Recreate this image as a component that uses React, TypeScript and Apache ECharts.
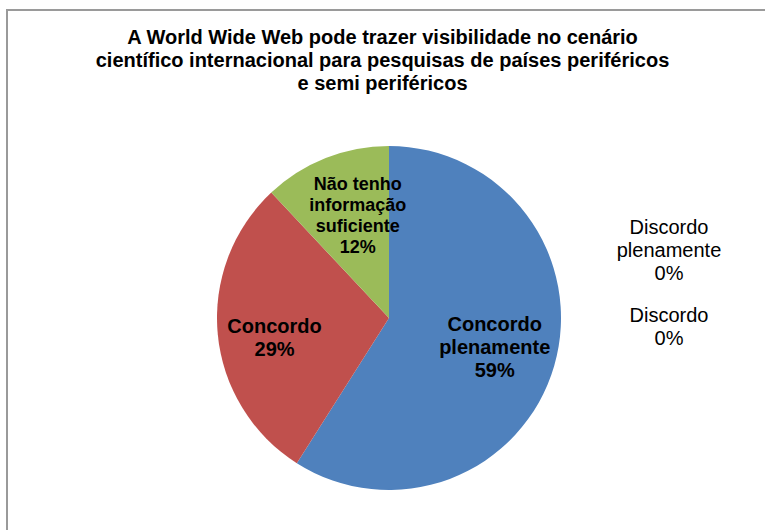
import React, { useEffect, useRef } from "react";
import * as echarts from "echarts";

const titleText =
  "A World Wide Web pode trazer visibilidade no cenário\ncientífico internacional para pesquisas de países periféricos\ne semi periféricos";
const categories = [
  "Concordo plenamente",
  "Concordo",
  "Não tenho informação suficiente",
  "Discordo",
  "Discordo plenamente",
];
const labelNames = [
  "Concordo\nplenamente",
  "Concordo",
  "Não tenho\ninformação\nsuficiente",
  "Discordo",
  "Discordo\nplenamente",
];
const values = [59, 29, 12, 0, 0];
const colors = ["#4F81BD", "#C0504D", "#9BBB59", "#8064A2", "#4BACC6"];

const CX = 389;
const CY = 318;
const R = 172;
const insideFactor = [0.64, 0.68, 0.62];
const insideNudge: [number, number][] = [
  [0, -2],
  [2, 8],
  [8, -3],
];
const zeroLabelPos: Record<number, [number, number]> = {
  3: [669, 326],
  4: [669, 250],
};

export default function App() {
  const ref = useRef<HTMLDivElement>(null);
  useEffect(() => {
    if (!ref.current) return;
    const chart = echarts.init(ref.current, undefined, { renderer: "svg" });
    const font = "Liberation Sans, Arial, sans-serif";
    const data = categories.map((name, i) => {
      const zero = values[i] === 0;
      return {
        name,
        value: values[i],
        itemStyle: { color: colors[i] },
        label: zero
          ? {
              position: "outside" as const,
              fontWeight: "normal" as const,
              fontSize: 20,
              lineHeight: 23,
            }
          : {
              position: "inside" as const,
              fontWeight: "bold" as const,
              fontSize: i === 2 ? 18 : 20,
              lineHeight: i === 2 ? 21 : 23,
            },
        labelLine: { show: false },
      };
    });
    chart.setOption({
      animation: false,
      backgroundColor: "#ffffff",
      title: {
        text: titleText,
        left: "center",
        top: 20,
        textStyle: {
          fontFamily: font,
          fontSize: 20,
          fontWeight: "bold",
          color: "#000",
          lineHeight: 23,
        },
      },
      graphic: [
        {
          type: "rect",
          shape: { x: 7, y: 10, width: 900, height: 700 },
          style: { fill: "none", stroke: "#9a9a9a", lineWidth: 2 },
          silent: true,
        },
      ],
      series: [
        {
          type: "pie",
          center: [CX, CY],
          radius: R,
          startAngle: 90,
          clockwise: true,
          stillShowZeroSum: true,
          avoidLabelOverlap: false,
          label: {
            show: true,
            color: "#000",
            fontFamily: font,
            align: "center",
            formatter: (p: any) => `${labelNames[p.dataIndex]}\n${p.percent.toFixed(0)}%`,
          },
          labelLayout: (p: any) => {
            const i = p.dataIndex;
            if (zeroLabelPos[i]) {
              const [x, y] = zeroLabelPos[i];
              return { x, y, align: "center", verticalAlign: "middle" };
            }
            const rect = p.labelRect;
            const lx = rect.x + rect.width / 2;
            const ly = rect.y + rect.height / 2;
            const dx = lx - CX;
            const dy = ly - CY;
            const d = Math.sqrt(dx * dx + dy * dy) || 1;
            const target = R * insideFactor[i];
            return {
              dx: (dx / d) * target - dx + insideNudge[i][0],
              dy: (dy / d) * target - dy + insideNudge[i][1],
            };
          },
          data,
        },
      ],
    });
    return () => chart.dispose();
  }, []);
  return (
    <div
      ref={ref}
      style={{ position: "fixed", left: 0, top: 0, width: 765, height: 530 }}
    />
  );
}
